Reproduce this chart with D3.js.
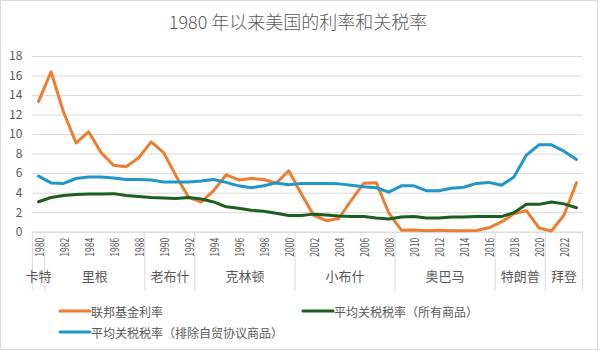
<!DOCTYPE html>
<html>
<head>
<meta charset="utf-8">
<script src="https://cdn.jsdelivr.net/npm/d3@7"></script>
<style>
  body { margin: 0; background: #fff; }
  svg { display: block; font-family: "Noto Sans CJK SC", "Noto Sans", sans-serif; }
</style>
</head>
<body>
<div id="chart"></div>
<script>
// years 1980..2023
const years = d3.range(1980, 2024);

const fedFunds = [
  13.35, 16.39, 12.24, 9.09, 10.23, 8.10, 6.80, 6.66, 7.57, 9.21,
  8.10, 5.69, 3.52, 3.02, 4.21, 5.83, 5.30, 5.46, 5.35, 4.97,
  6.24, 3.88, 1.67, 1.13, 1.35, 3.22, 4.97, 5.02, 1.92, 0.16,
  0.18, 0.10, 0.14, 0.11, 0.09, 0.13, 0.40, 1.00, 1.83, 2.16,
  0.38, 0.08, 1.68, 5.02
];
const tariffAll = [
  3.07, 3.5, 3.7, 3.8, 3.85, 3.85, 3.9, 3.7, 3.6, 3.5,
  3.45, 3.4, 3.5, 3.35, 3.05, 2.55, 2.4, 2.2, 2.1, 1.9,
  1.65, 1.65, 1.8, 1.7, 1.6, 1.55, 1.55, 1.4, 1.3, 1.5,
  1.55, 1.4, 1.4, 1.5, 1.5, 1.55, 1.55, 1.55, 1.95, 2.8,
  2.8, 3.05, 2.85, 2.45
];
const tariffExFta = [
  5.7, 5.0, 4.95, 5.45, 5.6, 5.6, 5.5, 5.35, 5.35, 5.3,
  5.1, 5.1, 5.1, 5.2, 5.35, 5.05, 4.7, 4.5, 4.7, 5.0,
  4.8, 4.95, 4.95, 4.95, 4.9, 4.75, 4.6, 4.5, 4.05, 4.7,
  4.7, 4.2, 4.2, 4.45, 4.55, 4.95, 5.05, 4.75, 5.6, 7.85,
  8.9, 8.9, 8.25, 7.4
];

const presidents = [
  { name: '卡特',   start: 1980, end: 1980 },
  { name: '里根',   start: 1981, end: 1988 },
  { name: '老布什', start: 1989, end: 1992 },
  { name: '克林顿', start: 1993, end: 2000 },
  { name: '小布什', start: 2001, end: 2008 },
  { name: '奥巴马', start: 2009, end: 2016 },
  { name: '特朗普', start: 2017, end: 2020 },
  { name: '拜登',   start: 2021, end: 2023 },
];

const yTicks = d3.range(0, 19, 2);

const series = [
  { name: '联邦基金利率', values: fedFunds, color: '#ed7d31' },
  { name: '平均关税税率（所有商品）', values: tariffAll, color: '#1b5e20' },
  { name: '平均关税税率（排除自贸协议商品）', values: tariffExFta, color: '#2196c9' },
];

const width = 600, height = 351;
const plot = { left: 32.3, right: 582.7, top: 56, bottom: 231.7 };
const textColor = '#595959';
const gridColor = '#d9d9d9';

const svg = d3.select('#chart').append('svg')
  .attr('width', width).attr('height', height);

svg.append('rect')
  .attr('x', 0.5).attr('y', 0.5).attr('width', 597).attr('height', 349)
  .attr('fill', '#fff').attr('stroke', gridColor);

svg.append('text')
  .attr('x', 298).attr('y', 29)
  .attr('text-anchor', 'middle')
  .attr('fill', textColor).attr('font-size', 18).attr('font-weight', 300)
  .text('1980 年以来美国的利率和关税率');

const x = d3.scaleBand().domain(years).range([plot.left, plot.right]);
const y = d3.scaleLinear().domain([0, 18]).range([plot.bottom, plot.top]);
const cx = (yr) => x(yr) + x.bandwidth() / 2;

// gridlines + y labels
const yAxisG = svg.append('g').attr('transform', `translate(${plot.left},0)`)
  .call(d3.axisLeft(y).tickValues(yTicks).tickSize(-(plot.right - plot.left)).tickPadding(10));
yAxisG.select('.domain').remove();
yAxisG.selectAll('line').attr('stroke', gridColor);
yAxisG.selectAll('text')
  .attr('fill', textColor).attr('font-size', 12)
  .attr('font-family', '"Noto Sans CJK SC", sans-serif');

// x axis: year labels every 2 years
const xAxisG = svg.append('g').attr('transform', `translate(0,${plot.bottom})`)
  .call(d3.axisBottom(x).tickValues(years.filter((d) => d % 2 === 0)).tickSize(0).tickSizeOuter(0));
xAxisG.select('.domain').attr('stroke', gridColor);
xAxisG.selectAll('text')
  .attr('fill', textColor).attr('font-size', 12)
  .attr('font-family', '"Noto Sans CJK SC", sans-serif')
  .attr('text-anchor', 'end')
  .attr('dominant-baseline', 'central')
  .attr('dy', null)
  .attr('y', 0)
  .attr('transform', 'translate(0,6) rotate(-90)')
  .attr('textLength', 19)
  .attr('lengthAdjust', 'spacingAndGlyphs');

// president groups
const groupG = svg.append('g');
const bounds = [plot.left].concat(presidents.map((p) => x(p.end) + x.bandwidth()));
groupG.selectAll('line').data(bounds).join('line')
  .attr('x1', (d) => d).attr('x2', (d) => d)
  .attr('y1', plot.bottom).attr('y2', 291)
  .attr('stroke', gridColor);
groupG.selectAll('text').data(presidents).join('text')
  .attr('x', (d) => (x(d.start) + x(d.end) + x.bandwidth()) / 2)
  .attr('y', 281)
  .attr('text-anchor', 'middle')
  .attr('fill', textColor).attr('font-size', 13)
  .text((d) => d.name);

// lines
const line = (vals) => d3.line()
  .x((d, i) => cx(years[i]))
  .y((d) => y(d))(vals);

svg.append('g').selectAll('path').data(series).join('path')
  .attr('d', (d) => line(d.values))
  .attr('fill', 'none')
  .attr('stroke', (d) => d.color)
  .attr('stroke-width', 3)
  .attr('stroke-linejoin', 'round')
  .attr('stroke-linecap', 'round');

// legend
const legendPos = [
  { x: 60, y: 311 },
  { x: 303, y: 311 },
  { x: 60, y: 332 },
];
const legend = svg.append('g').selectAll('g').data(series).join('g')
  .attr('transform', (d, i) => `translate(${legendPos[i].x},${legendPos[i].y})`);
legend.append('line')
  .attr('x1', 0).attr('x2', 30).attr('y1', 0).attr('y2', 0)
  .attr('stroke', (d) => d.color).attr('stroke-width', 3).attr('stroke-linecap', 'round');
legend.append('text')
  .attr('x', 31).attr('y', 0)
  .attr('dominant-baseline', 'central')
  .attr('fill', textColor).attr('font-size', 12)
  .text((d) => d.name);
</script>
</body>
</html>
